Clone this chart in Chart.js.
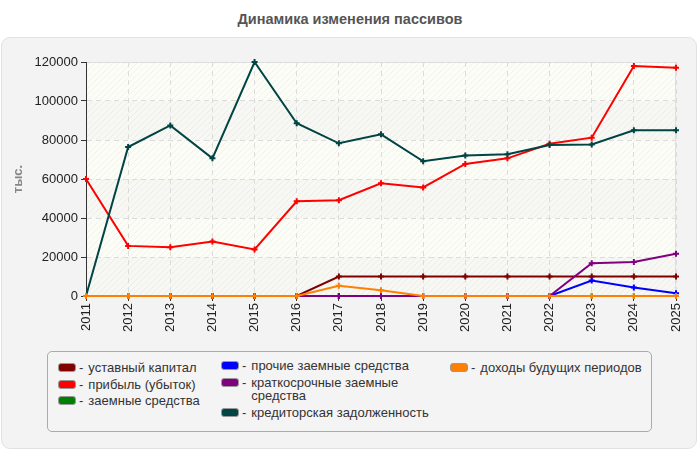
<!DOCTYPE html>
<html>
<head>
<meta charset="utf-8">
<script src="https://cdn.jsdelivr.net/npm/chart.js@4"></script>
<style>
  body { margin: 0; background: #fff; font-family: "Liberation Sans", Arial, sans-serif; }
  #wrap { position: relative; width: 700px; height: 450px; }
  #title { position: absolute; left: 0; top: 11px; width: 700px; text-align: center;
           font-weight: bold; font-size: 14.5px; color: #555; }
  #panel { position: absolute; left: 1px; top: 37px; width: 694px; height: 410px;
           background: #f3f3f3; border: 1px solid #e2e2e2; border-radius: 9px; }
  #chartBox { position: absolute; left: 0; top: 38px; width: 700px; height: 300px; }
  #legend { position: absolute; left: 47px; top: 351px; width: 603px; height: 79px;
            border: 1px solid #aaa; border-radius: 5px; background: #f4f4f4;
            display: flex; font-size: 13px; color: #333; }
  .col { padding-top: 9px; }
  .item { display: flex; align-items: flex-start; line-height: 13.5px; margin-bottom: 3px; }
  .sw { width: 16px; height: 7px; border: 1px solid #999; border-radius: 3px; margin-top: 2px; flex: none; }
  .dash { margin: 0 5px 0 3px; flex: none; }
  .txt { max-width: 190px; }
</style>
</head>
<body>
<div id="wrap">
  <div id="title">Динамика изменения пассивов</div>
  <div id="panel"></div>
  <div id="chartBox"><canvas id="passivesChart"></canvas></div>
  <div id="legend"></div>
</div>
<script>
// years on the x axis
const years = ['2011', '2012', '2013', '2014', '2015', '2016', '2017', '2018',
               '2019', '2020', '2021', '2022', '2023', '2024', '2025'];

// series, тыс. руб.
const ustavnyKapital   = [0, 0, 0, 0, 0, 0, 10000, 10000, 10000, 10000, 10000, 10000, 10000, 10000, 10000];
const pribyl           = [60000, 25700, 25000, 28000, 23900, 48600, 49100, 57800, 55700, 67700, 70600, 78100, 81200, 118000, 117100];
const zaemnye          = [0, 0, 0, 0, 0, 0, 0, 0, 0, 0, 0, 0, 0, 0, 0];
const prochieZaemnye   = [0, 0, 0, 0, 0, 0, 0, 0, 0, 0, 0, 0, 7900, 4400, 1400];
const kratkosrochnye   = [0, 0, 0, 0, 0, 0, 0, 0, 0, 0, 0, 0, 16800, 17400, 21700];
const kreditorskaya    = [0, 76400, 87500, 70600, 120000, 88600, 78300, 82900, 69100, 72000, 72700, 77400, 77700, 85000, 85000];
const dohodyBuduschih  = [0, 0, 0, 0, 0, 0, 5300, 2900, 0, 0, 0, 0, 0, 0, 0];

const yTicks = { min: 0, max: 120000, step: 20000 };

const series = [
  { name: 'уставный капитал', data: ustavnyKapital, color: '#800000', col: 0 },
  { name: 'прибыль (убыток)', data: pribyl, color: '#ff0000', col: 0 },
  { name: 'заемные средства', data: zaemnye, color: '#008000', col: 0 },
  { name: 'прочие заемные средства', data: prochieZaemnye, color: '#0000ff', col: 1 },
  { name: 'краткосрочные заемные средства', data: kratkosrochnye, color: '#800080', col: 1 },
  { name: 'кредиторская задолженность', data: kreditorskaya, color: '#004444', col: 1 },
  { name: 'доходы будущих периодов', data: dohodyBuduschih, color: '#ff8000', col: 2 }
];

// hatched background bands behind the plot
let hatch = null;
function getHatch(ctx) {
  if (hatch) return hatch;
  const c = document.createElement('canvas');
  c.width = 6; c.height = 6;
  const g = c.getContext('2d');
  g.strokeStyle = 'rgba(0,0,0,0.045)';
  g.lineWidth = 1;
  g.beginPath();
  g.moveTo(0, 6); g.lineTo(6, 0);
  g.moveTo(-1, 1); g.lineTo(1, -1);
  g.moveTo(5, 7); g.lineTo(7, 5);
  g.stroke();
  hatch = ctx.createPattern(c, 'repeat');
  return hatch;
}

const bgPlugin = {
  id: 'bgBands',
  beforeDraw(chart) {
    const { ctx, chartArea: a, scales: { y } } = chart;
    ctx.save();
    ctx.fillStyle = '#fdfdf7';
    ctx.fillRect(a.left, a.top, a.right - a.left, a.bottom - a.top);
    for (let v = yTicks.min; v < yTicks.max; v += yTicks.step) {
      const y1 = y.getPixelForValue(v + yTicks.step);
      const y0 = y.getPixelForValue(v);
      const shaded = ((v / yTicks.step) % 2) === 0;
      ctx.fillStyle = shaded ? '#f7f7f4' : '#fdfdf7';
      ctx.fillRect(a.left, y1, a.right - a.left, y0 - y1);
    }
    ctx.fillStyle = getHatch(ctx);
    ctx.fillRect(a.left, a.top, a.right - a.left, a.bottom - a.top);
    ctx.strokeStyle = '#e0e0e0';
    ctx.lineWidth = 1;
    ctx.strokeRect(a.left + 0.5, a.top + 0.5, a.right - a.left - 1, a.bottom - a.top);
    ctx.restore();
  }
};

const ctx = document.getElementById('passivesChart');

new Chart(ctx, {
  type: 'line',
  data: {
    labels: years,
    datasets: series.map((s, i) => ({
      label: s.name,
      data: s.data,
      borderColor: s.color,
      backgroundColor: s.color,
      borderWidth: 2,
      pointStyle: 'cross',
      pointRadius: 3,
      pointBorderWidth: 2,
      tension: 0,
      clip: false,
      order: series.length - 1 - i // later series drawn on top
    }))
  },
  options: {
    responsive: true,
    maintainAspectRatio: false,
    animation: false,
    layout: { padding: { top: 24, right: 24, left: 0, bottom: 0 } },
    plugins: {
      legend: { display: false },
      tooltip: { enabled: false }
    },
    scales: {
      x: {
        offset: false,
        grid: { color: '#dcdcdc', tickColor: '#333', tickLength: 5, tickBorderDash: [] },
        border: { color: '#333', width: 1, dash: [5, 4] },
        ticks: {
          autoSkip: false, minRotation: 90, maxRotation: 90, padding: 2,
          color: '#222', font: { family: 'Liberation Sans', size: 13 }
        },
        afterFit(scale) { scale.height = 42; }
      },
      y: {
        min: yTicks.min,
        max: yTicks.max,
        grid: { color: '#dcdcdc', tickColor: '#333', tickLength: 5, tickBorderDash: [] },
        border: { color: '#333', width: 1, dash: [5, 4] },
        ticks: {
          stepSize: yTicks.step, padding: 3,
          color: '#222', font: { family: 'Liberation Sans', size: 13 },
          callback: (v) => String(v)
        },
        title: {
          display: true, text: 'тыс.', color: '#888',
          font: { family: 'Liberation Sans', size: 13, weight: 'bold' },
          padding: { top: 11, bottom: 0 }
        },
        afterFit(scale) { scale.width = 86; }
      }
    }
  },
  plugins: [bgPlugin]
});

// legend built from the series list
const legend = document.getElementById('legend');
const colWidths = [163, 229, 200];
const colLeft = [10, 0, 0];
colWidths.forEach((w, c) => {
  const col = document.createElement('div');
  col.className = 'col';
  col.style.width = w + 'px';
  col.style.marginLeft = colLeft[c] + 'px';
  if (c === 1) col.style.paddingTop = '7px';
  series.filter(s => s.col === c).forEach(s => {
    const it = document.createElement('div');
    it.className = 'item';
    it.innerHTML = '<span class="sw" style="background:' + s.color + '"></span>' +
                   '<span class="dash">-</span><span class="txt">' + s.name + '</span>';
    col.appendChild(it);
  });
  legend.appendChild(col);
});
</script>
</body>
</html>
